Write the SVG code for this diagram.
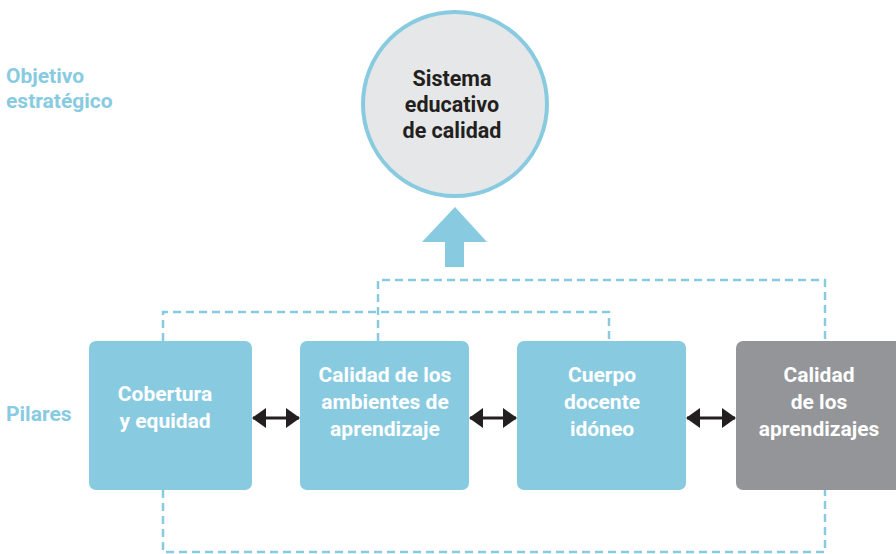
<svg xmlns="http://www.w3.org/2000/svg" width="896" height="554" viewBox="0 0 896 554">
<defs>
<style>
.lbl{font-family:Roboto,"Liberation Sans",sans-serif;font-weight:700;font-size:21px;fill:#88cbe1}
.bt{font-family:Roboto,"Liberation Sans",sans-serif;font-weight:700;font-size:21px;fill:#ffffff;text-anchor:middle}
.ct{font-family:Roboto,"Liberation Sans",sans-serif;font-weight:700;font-size:21.5px;fill:#231f20;text-anchor:middle}
.box{fill:#88cbe1}
.dash{fill:none;stroke:#88cbe1;stroke-width:2.5;stroke-dasharray:8 5}
.dbl{stroke:#231f20;stroke-width:3;fill:none}
</style>
<marker id="ah" viewBox="0 0 14 20" refX="13" refY="10" markerWidth="14" markerHeight="20" markerUnits="userSpaceOnUse" orient="auto-start-reverse">
<path d="M0,0 L14,10 L0,20 Z" fill="#231f20"/>
</marker>
</defs>
<rect width="896" height="554" fill="#ffffff"/>
<g id="labels">
<text class="lbl" x="6" y="83">Objetivo</text>
<text class="lbl" x="6" y="108">estratégico</text>
<text class="lbl" x="6" y="421">Pilares</text>
</g>
<g id="connectors">
<path class="dash" d="M378,341 V280 H825 V341"/>
<path class="dash" d="M163,341 V312 H609 V341"/>
<path class="dash" d="M163,490 V552 H825 V490"/>
<line class="dbl" x1="253" y1="418" x2="299" y2="418" marker-start="url(#ah)" marker-end="url(#ah)"/>
<line class="dbl" x1="470" y1="418" x2="516" y2="418" marker-start="url(#ah)" marker-end="url(#ah)"/>
<line class="dbl" x1="687" y1="418" x2="735" y2="418" marker-start="url(#ah)" marker-end="url(#ah)"/>
<path d="M455,207 L487,242 L464,242 L464,267 L445,267 L445,242 L422,242 Z" fill="#88cbe1"/>
</g>
<g id="objetivo">
<circle cx="455" cy="104" r="92" fill="#e6e7e8" stroke="#88cbe1" stroke-width="4"/>
<text class="ct" x="452" y="86">Sistema</text>
<text class="ct" x="452" y="112">educativo</text>
<text class="ct" x="452" y="138">de calidad</text>
</g>
<g id="cobertura">
<rect class="box" x="89" y="341" width="163" height="149" rx="7"/>
<text class="bt" x="165" y="401">Cobertura</text>
<text class="bt" x="165" y="428">y equidad</text>
</g>
<g id="ambientes">
<rect class="box" x="300" y="341" width="169" height="149" rx="7"/>
<text class="bt" x="385" y="382">Calidad de los</text>
<text class="bt" x="385" y="409">ambientes de</text>
<text class="bt" x="385" y="436">aprendizaje</text>
</g>
<g id="docente">
<rect class="box" x="517" y="341" width="169" height="149" rx="7"/>
<text class="bt" x="602" y="382">Cuerpo</text>
<text class="bt" x="602" y="409">docente</text>
<text class="bt" x="602" y="436">idóneo</text>
</g>
<g id="aprendizajes">
<rect x="736" y="341" width="170" height="149" rx="7" fill="#939598"/>
<text class="bt" x="819" y="382">Calidad</text>
<text class="bt" x="819" y="409">de los</text>
<text class="bt" x="819" y="436">aprendizajes</text>
</g>
</svg>
